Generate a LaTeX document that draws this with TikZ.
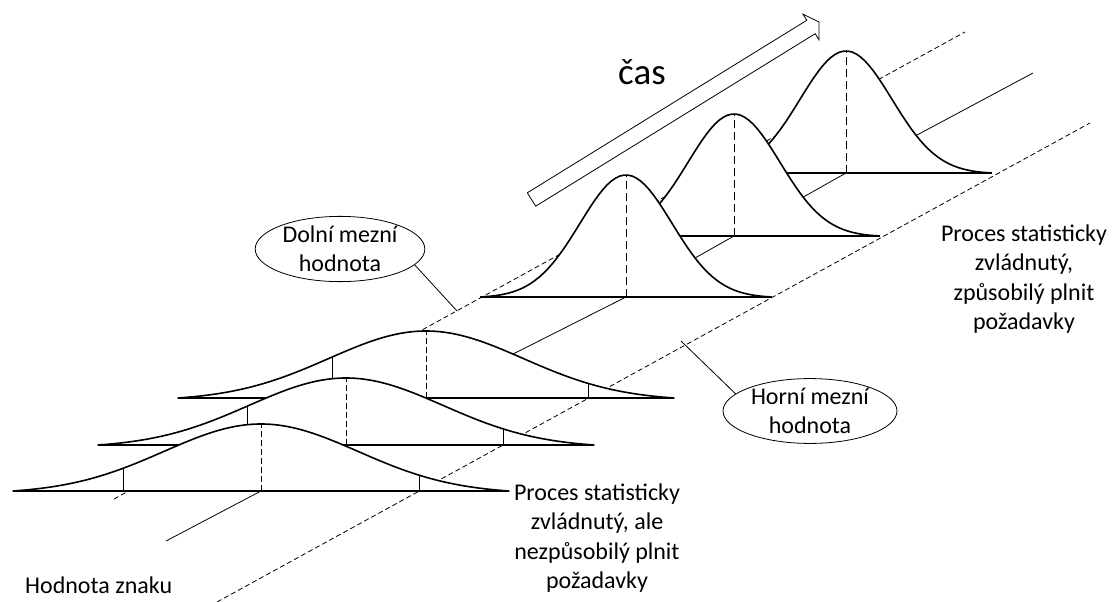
\documentclass[tikz,border=0pt]{standalone}
\usepackage{fontspec}
\setmainfont{Carlito}
\usetikzlibrary{shapes.geometric}
\newcommand\labfont{\fontsize{24}{29.3}\selectfont}
\tikzset{
  bell/.style={line width=1.6pt,line join=round},
  baseln/.style={line width=1.3pt},
  axisln/.style={line width=0.8pt},
  limitln/.style={line width=0.8pt,dash pattern=on 5pt off 3pt},
  meanln/.style={line width=1pt,dash pattern=on 6pt off 3pt},
  meanlnback/.style={line width=1pt,dash pattern=on 8pt off 4pt},
  limtick/.style={line width=0.9pt},
  oval/.style={ellipse,draw,line width=0.8pt,align=center,inner xsep=2.5pt,inner ysep=0pt,font=\labfont},
  pointer/.style={line width=0.8pt},
  lab/.style={align=center,font=\labfont,inner sep=0pt},
  timearrow/.style={draw,fill=white,line width=0.8pt,line join=miter}
}
\begin{document}
\begin{tikzpicture}[x=1pt,y=-1pt]
  \useasboundingbox (0,0) rectangle (1114,602);
  % centre axis through the curves
  \coordinate (a0) at (166,541);
  \coordinate (f3) at (261,491);
  \coordinate (f2) at (346,445);
  \coordinate (f1) at (426,398);
  \coordinate (b1) at (626,297);
  \coordinate (b2) at (734,236);
  \coordinate (b3) at (846,173);
  \coordinate (a1) at (1033,73);
  \draw[axisln] (a0) -- (f3) -- (f2) -- (f1) -- (b1) -- (b2) -- (b3) -- (a1);
  % limit lines
  \coordinate (lo0) at (114,499); \coordinate (lo1) at (965,32);
  \coordinate (hi0) at (217,602); \coordinate (hi1) at (1090,123);
  \draw[limitln] (lo0) -- (lo1);
  \draw[limitln] (hi0) -- (hi1);
  % narrow curves, back to front
  \foreach \cx/\by in {846/173,734/236,626/297}{
    \fill[white] plot[domain=-3.17:3.17,samples=70] ({\cx+46*\x},{\by-122*(exp(-0.5*(\x)*(\x))-0.0065)/0.9935}) -- cycle;
    \draw[bell] plot[domain=-3.17:3.17,samples=70] ({\cx+46*\x},{\by-122*(exp(-0.5*(\x)*(\x))-0.0065)/0.9935});
    \draw[baseln] (\cx-146,\by) -- (\cx+146,\by);
    \draw[meanlnback] (\cx,\by) -- (\cx,\by-122);
  }
  % wide curves, back to front
  \foreach \cx/\by/\lx/\rx in {426/398/332/588,346/445/247/503,261/491/123/419}{
    \fill[white] plot[domain=-2.56:2.56,samples=90] ({\cx+97*\x},{\by-67*(exp(-0.5*(\x)*(\x))-0.038)/0.962}) -- cycle;
    \draw[bell] plot[domain=-2.56:2.56,samples=90] ({\cx+97*\x},{\by-67*(exp(-0.5*(\x)*(\x))-0.038)/0.962});
    \draw[baseln] (\cx-248,\by) -- (\cx+248,\by);
    \draw[meanln] (\cx,\by) -- (\cx,\by-67);
    \pgfmathsetmacro\hl{67*(exp(-0.5*((\lx-\cx)/97)^2)-0.038)/0.962}
    \pgfmathsetmacro\hr{67*(exp(-0.5*((\rx-\cx)/97)^2)-0.038)/0.962}
    \draw[limtick] (\lx,\by) -- (\lx,\by-\hl);
    \draw[limtick] (\rx,\by) -- (\rx,\by-\hr);
  }
  % time arrow
  \draw[timearrow] (527.3,192.8) -- (806.8,20.3) -- (803,14.2) -- (819,22) -- (819,39.8) -- (815.2,33.7) -- (535.7,206.2) -- cycle;
  \node[lab] (cas) at (642,72) {\fontsize{37}{44}\selectfont čas};
  % limit labels
  \node[oval] (dolni) at (340,249) {Dolní mezní\\hodnota};
  \node[oval] (horni) at (810,411) {Horní mezní\\hodnota};
  \coordinate (dlim) at (457,311);
  \coordinate (hlim) at (681,341);
  \draw[pointer] (dolni.-12) -- (dlim);
  \draw[pointer] (horni.167) -- (hlim);
  % texts
  \node[lab,anchor=west] (znak) at (25,585) {Hodnota znaku};
  \node[lab] (lowproc) at (597,538) {Proces statisticky\\zvládnutý, ale\\nezpůsobilý plnit\\požadavky};
  \node[lab] (highproc) at (1024,279) {Proces statisticky\\zvládnutý,\\způsobilý plnit\\požadavky};
\end{tikzpicture}
\end{document}
